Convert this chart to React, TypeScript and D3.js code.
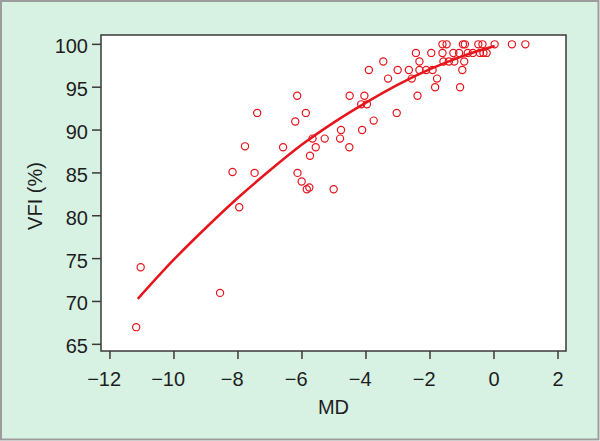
import React from "react";
import * as d3 from "d3";

// scatter data: MD (dB) vs VFI (%)
const mdValues = [
  -11.18, -11.04, -8.56, -8.17, -7.96, -7.78, -7.48, -7.4, -6.59, -6.15,
  -6.21, -6.14, -6.01, -5.88, -5.85, -5.77, -5.75, -5.67, -5.57, -5.29,
  -5.01, -4.78, -4.81, -4.51, -4.52, -4.15, -4.12, -4.05, -3.97, -3.91,
  -3.76, -3.46, -3.31, -3.04, -3.01, -2.66, -2.57, -2.44, -2.39, -2.33,
  -2.33, -2.12, -1.96, -1.92, -1.84, -1.78, -1.61, -1.48, -1.61, -1.58,
  -1.41, -1.27, -1.24, -1.09, -1.06, -0.99, -0.97, -0.91, -0.93, -0.82,
  -0.66, -0.49, -0.36, -0.44, -0.33, -0.23, 0.02, 0.56, 0.98,
];
const vfiValues = [
  67, 74, 71, 85.1, 81, 88.1, 85, 92, 88, 94,
  91, 85, 84, 92, 83.1, 83.3, 87, 89, 88, 89,
  83.1, 90, 89, 94, 88, 93, 90, 94, 93, 97,
  91.1, 98, 96, 92, 97, 97, 96, 99, 94, 98,
  97, 97, 99, 97, 95, 96, 100, 100, 99, 98,
  98, 99, 98, 99, 95, 97, 100, 100, 98, 99,
  99, 100, 100, 99, 99, 99, 100, 100, 100,
];

// fitted curve
const fitMd = [-11.13, -10, -9, -8, -7, -6, -5, -4, -3, -2, -1, 0.02];
const fitVfi = [70.3, 74.9, 78.6, 82.1, 85.3, 88.3, 90.9, 93.2, 95.3, 97.1, 98.6, 99.8];

const xTicks = [-12, -10, -8, -6, -4, -2, 0, 2];
const yTicks = [65, 70, 75, 80, 85, 90, 95, 100];

const W = 600;
const H = 441;
const box = { left: 101, right: 566, top: 35, bottom: 351 };
const red = "#e8141c";
const ink = "#1e1e1e";
const font = "'Liberation Sans', Arial, sans-serif";

export default function App() {
  const x = d3.scaleLinear().domain([-12.28, 2.25]).range([box.left, box.right]);
  const y = d3.scaleLinear().domain([64.22, 101.09]).range([box.bottom, box.top]);

  const points = mdValues.map((m, i) => ({ md: m, vfi: vfiValues[i] }));
  const fit = fitMd.map((m, i) => [m, fitVfi[i]] as [number, number]);
  const line = d3
    .line<[number, number]>()
    .x((d) => x(d[0]))
    .y((d) => y(d[1]))
    .curve(d3.curveMonotoneX);

  const digitW = 0.556 * 20;

  return (
    <svg
      width={W}
      height={H}
      style={{ position: "absolute", left: 0, top: 0, fontFamily: font }}
    >
      <rect x={1} y={1} width={597.5} height={438.5} fill="#d7f1e3" stroke="#9c9c9c" strokeWidth={2} />
      <rect
        x={box.left}
        y={box.top}
        width={box.right - box.left}
        height={box.bottom - box.top}
        fill="#ffffff"
        stroke="#3a3a3a"
        strokeWidth={1.5}
      />

      {/* y axis */}
      {yTicks.map((t) => (
        <g key={"y" + t}>
          <line x1={box.left - 9} x2={box.left} y1={y(t)} y2={y(t)} stroke="#3a3a3a" strokeWidth={1.5} />
          <text x={88} y={y(t) + 9} textAnchor="end" fontSize={20} fill={ink}>
            {t}
          </text>
        </g>
      ))}

      {/* x axis */}
      {xTicks.map((t) => {
        const digits = String(Math.abs(t));
        return (
          <g key={"x" + t}>
            <line x1={x(t)} x2={x(t)} y1={box.bottom} y2={box.bottom + 8} stroke="#3a3a3a" strokeWidth={1.5} />
            <text x={x(t)} y={386} textAnchor="middle" fontSize={20} fill={ink}>
              {digits}
            </text>
            {t < 0 && (
              <text x={x(t) - (digits.length * digitW) / 2} y={386} textAnchor="end" fontSize={20} fill={ink}>
                {"\u2212"}
              </text>
            )}
          </g>
        );
      })}

      <text x={(box.left + box.right) / 2} y={414} textAnchor="middle" fontSize={20} fill={ink}>
        MD
      </text>
      <text transform="translate(41.5,196) rotate(-90)" textAnchor="middle" fontSize={20} fill={ink}>
        VFI (%)
      </text>

      {/* fitted curve */}
      <path d={line(fit) || ""} fill="none" stroke={red} strokeWidth={2.5} />

      {/* observations */}
      {points.map((p, i) => (
        <circle key={i} cx={x(p.md)} cy={y(p.vfi)} r={3.6} fill="none" stroke={red} strokeWidth={1.2} />
      ))}
    </svg>
  );
}
